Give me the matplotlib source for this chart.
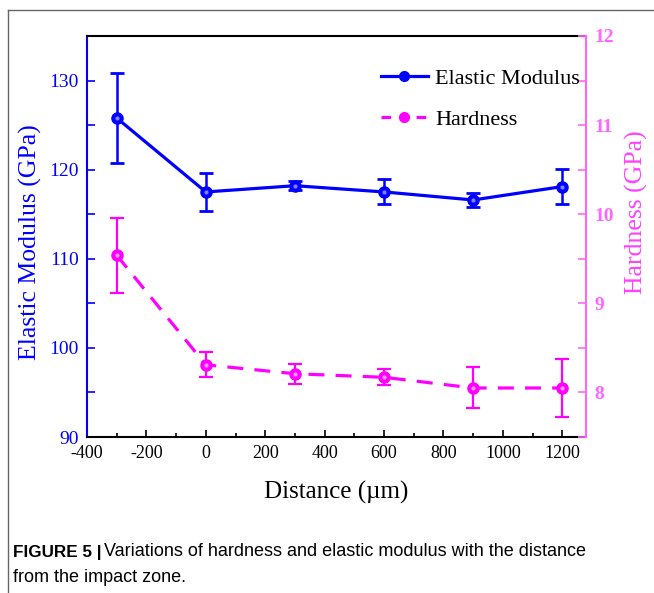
import matplotlib
matplotlib.use("Agg")
import matplotlib.pyplot as plt
from matplotlib.lines import Line2D
from matplotlib.ticker import MultipleLocator

# ---- data ----
distance = [-300, 0, 300, 600, 900, 1200]
modulus = [125.8, 117.5, 118.2, 117.5, 116.6, 118.1]
modulus_err = [5.1, 2.1, 0.5, 1.4, 0.8, 2.0]
hardness = [9.54, 8.31, 8.21, 8.17, 8.05, 8.05]
hardness_err = [0.42, 0.14, 0.11, 0.09, 0.23, 0.33]
xticks = [-400, -200, 0, 200, 400, 600, 800, 1000, 1200]

BLUE = "#0000ff"
MAG = "#ff00ff"
PINK_AX = "#ff66ff"
PINK_LBL = "#ff40ff"

plt.rcParams["font.family"] = ["Liberation Serif", "DejaVu Serif"]
plt.rcParams["axes.unicode_minus"] = False

fig = plt.figure(figsize=(6.54, 5.93), dpi=100)
W, H = 654, 593
x0, x1, y0, y1 = 87, 586, 36, 437
ax = fig.add_axes([x0 / W, 1 - y1 / H, (x1 - x0) / W, (y1 - y0) / H])
ax2 = ax.twinx()

# outer frame lines (top and left)
fig.add_artist(Line2D([8 / W, 1], [1 - 10 / H, 1 - 10 / H], color="#666666", lw=1.0, transform=fig.transFigure))
fig.add_artist(Line2D([8 / W, 8 / W], [0, 1 - 10 / H], color="#666666", lw=1.0, transform=fig.transFigure))

# modulus
ax.errorbar(distance, modulus, yerr=modulus_err, color=BLUE, lw=2.3, marker="o",
            ms=8, mfc=BLUE, mec=BLUE, capsize=5, capthick=2, elinewidth=1.8, zorder=3)
ax.plot(distance, modulus, ls="none", marker="o", ms=3, mfc="#8080ff", mec="none", zorder=4)

# hardness
ax2.errorbar(distance, hardness, yerr=hardness_err, color=MAG, lw=2.3, ls=(0, (5, 3.5)),
             marker="o", ms=8, mfc=MAG, mec=MAG, capsize=5, capthick=1.6, elinewidth=1.6, zorder=3)
ax2.plot(distance, hardness, ls="none", marker="o", ms=3, mfc="#ff99ff", mec="none", zorder=4)

ax.set_xlim(-400, 1280)
ax.set_ylim(90, 135)
ax2.set_ylim(7.5, 12)

ax.set_xticks(xticks)
ax.xaxis.set_minor_locator(MultipleLocator(100))
ax.set_yticks([90, 100, 110, 120, 130])
ax.yaxis.set_minor_locator(MultipleLocator(5))
ax2.set_yticks([8, 9, 10, 11, 12])
ax2.yaxis.set_minor_locator(MultipleLocator(0.5))

ax.tick_params(axis="x", which="both", direction="in", colors="black", labelsize=13, width=1.2, pad=6)
ax.tick_params(axis="x", which="major", length=5)
ax.tick_params(axis="x", which="minor", length=3)
ax.tick_params(axis="y", which="both", direction="in", colors=BLUE, labelsize=14, width=1.2, pad=6)
ax.tick_params(axis="y", which="major", length=6)
ax.tick_params(axis="y", which="minor", length=6)
ax2.tick_params(axis="y", which="both", direction="in", colors=PINK_AX, labelsize=14, width=1.2, pad=6)
ax2.tick_params(axis="y", which="major", length=6)
ax2.tick_params(axis="y", which="minor", length=6)
for t in ax2.get_yticklabels():
    t.set_fontweight("bold")

for sp in ["top", "bottom"]:
    ax.spines[sp].set_color("black")
    ax.spines[sp].set_linewidth(1.5)
ax.spines["left"].set_color(BLUE)
ax.spines["left"].set_linewidth(1.5)
ax.spines["right"].set_visible(False)
for sp in ["top", "bottom", "left"]:
    ax2.spines[sp].set_visible(False)
ax2.spines["right"].set_color(PINK_AX)
ax2.spines["right"].set_linewidth(1.5)

ax.set_xlabel("Distance (\u00b5m)", fontsize=18)
ax.xaxis.set_label_coords(0.5, -0.11)
ax.set_ylabel("Elastic Modulus (GPa)", fontsize=18.5, color=BLUE)
ax.yaxis.set_label_coords(-0.090, 0.486)
ax2.set_ylabel("Hardness (GPa)", fontsize=18.5, color=PINK_LBL)
ax2.yaxis.set_label_coords(1.078, 0.56)

handles = [
    Line2D([], [], color=BLUE, lw=2.3, marker="o", ms=7),
    Line2D([], [], color=MAG, lw=2.3, ls=(0, (3, 2.5)), marker="o", ms=7),
]
leg = fig.legend(handles, ["Elastic Modulus", "Hardness"], loc="upper left",
                 bbox_to_anchor=(381 / W, 1 - 68 / H), frameon=False, fontsize=16,
                 handlelength=2.1, handletextpad=0.35, labelspacing=0.95,
                 borderpad=0, borderaxespad=0)

# caption
renderer = fig.canvas.get_renderer()
cap_font = ["Liberation Sans", "DejaVu Sans"]
t1 = fig.text(13 / W, 1 - 552 / H, "FIGURE 5 |", fontsize=12.3, fontweight="bold",
              family=cap_font, va="center", ha="left")
bb = t1.get_window_extent(renderer)
fig.text((bb.x1 + 3) / W, 1 - 552 / H, "Variations of hardness and elastic modulus with the distance",
         fontsize=13, family=cap_font, va="center", ha="left")
fig.text(13 / W, 1 - 578 / H, "from the impact zone.", fontsize=13, family=cap_font,
         va="center", ha="left")

fig.savefig("out.png", dpi=100)
